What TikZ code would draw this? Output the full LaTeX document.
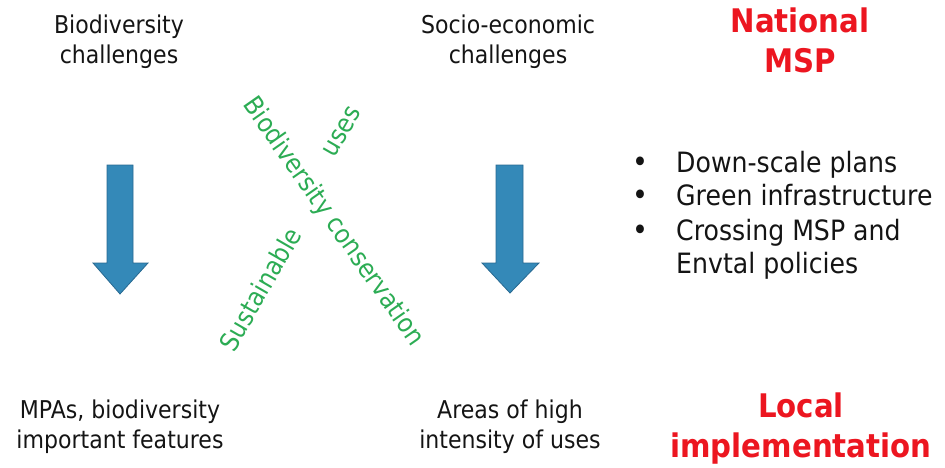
\documentclass[tikz,border=0pt]{standalone}
\usepackage{fontspec}
\setmainfont{DejaVu Sans}[FakeStretch=0.9]
\definecolor{txt}{RGB}{20,20,20}
\definecolor{hred}{RGB}{236,22,32}
\definecolor{grn}{RGB}{44,172,84}
\definecolor{ablue}{RGB}{52,137,184}
\definecolor{aline}{RGB}{40,105,145}
\begin{document}
\begin{tikzpicture}[x=1pt,y=-1pt,
  lbl/.style={font=\fontsize{24.5}{30}\selectfont, align=center, anchor=base, inner sep=0pt, text=txt},
  headred/.style={font=\fontsize{32.5}{40}\selectfont\bfseries, align=center, anchor=base, inner sep=0pt, text=hred},
  grnlbl/.style={font=\fontsize{26}{30}\selectfont, inner sep=0pt, text=grn},
  bultext/.style={font=\fontsize{28}{34}\selectfont, anchor=base west, inner sep=0pt, text=txt},
  bulmark/.style={font=\fontsize{30}{34}\selectfont, anchor=base, inner sep=0pt, text=txt},
  blockarrow/.style={fill=ablue, draw=aline, line width=0.8pt, line join=miter}]
\useasboundingbox (0,0) rectangle (945,467);
% top labels (anchor = baseline of last line)
\node[lbl] (bio) at (119,63) {Biodiversity\\challenges};
\node[lbl] (soc) at (508,63) {Socio-economic\\challenges};
\node[headred] (nat) at (800,72) {National\\MSP};
% arrows
\draw[blockarrow] (107,165) -- (133,165) -- (133,263) -- (148,263) -- (120,294) -- (93,263) -- (107,263) -- cycle;
\draw[blockarrow] (496,165) -- (523,165) -- (523,263) -- (539,263) -- (510,293) -- (482,263) -- (496,263) -- cycle;
% green crossing texts
\node[grnlbl, rotate=-55] (bc) at (333,222) {Biodiversity conservation};
\node[grnlbl, rotate=60] (sus) at (260,289) {Sustainable};
\node[grnlbl, rotate=60] (uses) at (342,132) {uses};
% bullets
\node[bulmark] (b1) at (640,172) {•};
\node[bultext] (t1) at (676,172) {Down-scale plans};
\node[bulmark] (b2) at (640,205) {•};
\node[bultext] (t2) at (676,205) {Green infrastructure};
\node[bulmark] (b3) at (640,240) {•};
\node[bultext] (t3) at (676,240) {Crossing MSP and};
\node[bultext] (t4) at (676,273) {Envtal policies};
% bottom labels
\node[lbl] (mpa) at (120,448) {MPAs, biodiversity\\important features};
\node[lbl] (area) at (510,448) {Areas of high\\intensity of uses};
\node[headred] (loc) at (801,457) {Local\\implementation};
\end{tikzpicture}
\end{document}
